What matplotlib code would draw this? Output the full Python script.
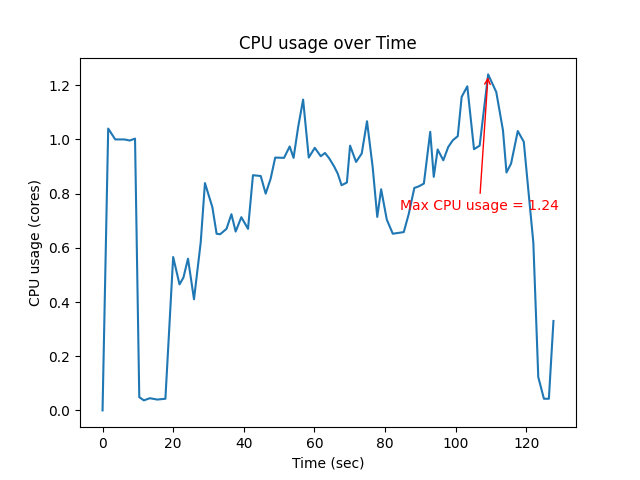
import matplotlib
matplotlib.use("Agg")
import matplotlib.pyplot as plt

# time stamps (sec) and cpu usage (cores)
time_sec = [0.0, 1.6, 3.6, 5.1, 6.2, 7.7, 9.2, 10.4, 11.7, 13.4, 15.5, 17.8,
            20.0, 21.8, 22.9, 24.2, 25.9, 27.8, 29.0, 31.1, 32.3, 33.3, 35.1,
            36.5, 37.7, 39.3, 41.2, 42.6, 44.8, 46.2, 47.6, 48.9, 51.4, 53.0,
            54.1, 55.4, 56.8, 58.4, 60.1, 61.8, 63.0, 64.2, 65.6, 66.6, 67.7,
            69.2, 70.1, 71.8, 73.4, 74.9, 76.5, 77.8, 78.9, 80.5, 82.2, 85.3,
            86.7, 88.3, 89.6, 91.0, 92.8, 93.8, 94.9, 96.5, 97.9, 99.2, 100.6,
            101.7, 103.3, 105.2, 106.8, 109.2, 111.5, 113.4, 114.4, 115.7,
            117.6, 119.3, 120.5, 122.0, 123.4, 125.0, 126.4, 127.7]
cpu_cores = [0.0, 1.04, 1.00, 1.00, 1.00, 0.996, 1.003, 0.049, 0.037, 0.045,
             0.040, 0.043, 0.566, 0.465, 0.49, 0.56, 0.41, 0.62, 0.839, 0.75,
             0.652, 0.65, 0.67, 0.724, 0.66, 0.713, 0.67, 0.868, 0.865, 0.80,
             0.855, 0.933, 0.932, 0.974, 0.932, 1.046, 1.147, 0.933, 0.969,
             0.938, 0.950, 0.93, 0.90, 0.874, 0.831, 0.841, 0.977, 0.917,
             0.948, 1.067, 0.898, 0.714, 0.816, 0.704, 0.652, 0.658, 0.724,
             0.821, 0.827, 0.837, 1.028, 0.862, 0.963, 0.923, 0.972, 0.997,
             1.012, 1.157, 1.196, 0.964, 0.977, 1.24, 1.175, 1.034, 0.878,
             0.911, 1.031, 0.991, 0.825, 0.62, 0.123, 0.043, 0.043, 0.33]

fig, ax = plt.subplots(figsize=(6.4, 4.8), dpi=100)
ax.plot(time_sec, cpu_cores)

i_max = cpu_cores.index(max(cpu_cores))
t_max = time_sec[i_max]
v_max = cpu_cores[i_max]
ax.annotate("Max CPU usage = %.2f" % v_max, xy=(t_max, v_max),
            xytext=(t_max - 25, v_max - 0.5), color="red",
            arrowprops=dict(arrowstyle="->", color="red"))

ax.set_title("CPU usage over Time")
ax.set_xlabel("Time (sec)")
ax.set_ylabel("CPU usage (cores)")

fig.savefig("out.png")
